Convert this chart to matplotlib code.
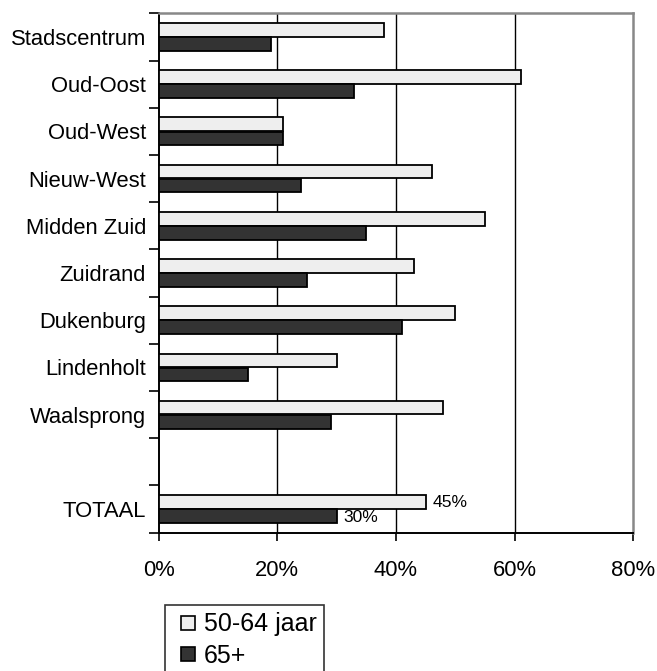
import matplotlib
matplotlib.use("Agg")
import matplotlib.pyplot as plt
from matplotlib.lines import Line2D
import numpy as np

plt.rcParams['font.family'] = ['Liberation Sans', 'DejaVu Sans']

categories = ["Stadscentrum", "Oud-Oost", "Oud-West", "Nieuw-West", "Midden Zuid",
              "Zuidrand", "Dukenburg", "Lindenholt", "Waalsprong", "", "TOTAAL"]
age_50_64 = [38, 61, 21, 46, 55, 43, 50, 30, 48, None, 45]
age_65_plus = [19, 33, 21, 24, 35, 25, 41, 15, 29, None, 30]
series_labels = ["50-64 jaar", "65+"]
x_ticks = [0, 20, 40, 60, 80]

light = "#eeeeee"
dark = "#333333"

W, H = 657, 671
fig = plt.figure(figsize=(W / 100, H / 100), dpi=100)
left, right, top, bottom = 158.5, 633.3, 13.3, 532.7
ax = fig.add_axes([left / W, 1 - bottom / H, (right - left) / W, (bottom - top) / H])

n = len(categories)
pos = np.arange(n)
bh = 0.29
for i, (a, b) in enumerate(zip(age_50_64, age_65_plus)):
    if a is None:
        continue
    ax.barh(i - 0.15, a, height=bh, color=light, edgecolor="black", linewidth=1.3, zorder=3)
    ax.barh(i + 0.15, b, height=bh, color=dark, edgecolor="black", linewidth=1.3, zorder=3)

# value labels on the total row
ti = n - 1
ax.text(age_50_64[ti] + 1.2, ti - 0.15, f"{age_50_64[ti]}%", va="center", ha="left",
        fontsize=12.6, zorder=4)
ax.text(age_65_plus[ti] + 1.2, ti + 0.17, f"{age_65_plus[ti]}%", va="center", ha="left",
        fontsize=12.6, zorder=2)

ax.set_xlim(0, 80)
ax.set_ylim(n - 0.5, -0.5)

ax.set_xticks(x_ticks)
ax.set_xticklabels([f"{v}%" for v in x_ticks])
for g in x_ticks[1:-1]:
    ax.axvline(g, color="black", linewidth=1.0, zorder=1)

ax.set_yticks(np.arange(n + 1) - 0.5)
ax.set_yticklabels([])
ax.set_yticks(pos, minor=True)
ax.set_yticklabels(categories, minor=True)
ax.tick_params(axis="y", which="major", direction="out", length=7, width=1.2, color="black")
ax.tick_params(axis="y", which="minor", length=0, pad=9, labelsize=15.8)
ax.tick_params(axis="x", direction="out", length=6, width=1.2, pad=14, labelsize=15.8)

for s in ["left", "bottom"]:
    ax.spines[s].set_color("black")
    ax.spines[s].set_linewidth(1.4)
for s in ["top", "right"]:
    ax.spines[s].set_color("#888888")
    ax.spines[s].set_linewidth(1.8)

handles = [Line2D([], [], linestyle="none", marker="s", markersize=9.5,
                  markerfacecolor=c, markeredgecolor="black", markeredgewidth=1.2)
           for c in (light, dark)]
leg = fig.legend(handles, series_labels, loc="upper left",
                 bbox_to_anchor=(165 / W, 1 - 605 / H),
                 fontsize=18, frameon=True, fancybox=False, edgecolor="black",
                 handlelength=1.2, handletextpad=0.05,
                 borderpad=0.3, labelspacing=0.3, borderaxespad=0)
leg.get_frame().set_linewidth(1.2)

fig.savefig("out.png", dpi=100)
